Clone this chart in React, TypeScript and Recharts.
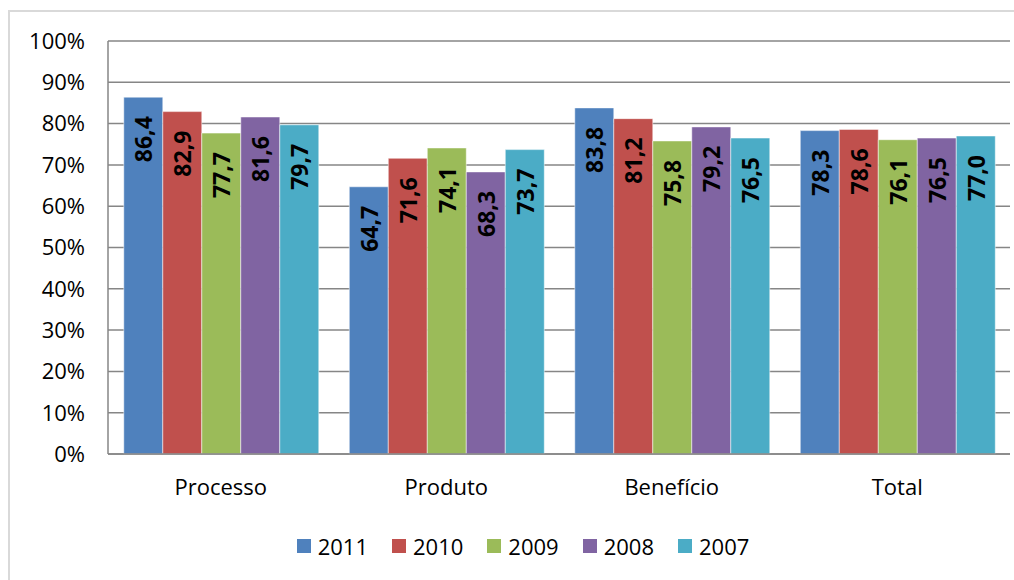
import React from 'react';
import { BarChart, Bar, XAxis, YAxis, CartesianGrid, Legend } from 'recharts';

const categories = ['Processo', 'Produto', 'Benefício', 'Total'];
const years = ['2011', '2010', '2009', '2008', '2007'];
const v2011 = [86.4, 64.7, 83.8, 78.3];
const v2010 = [82.9, 71.6, 81.2, 78.6];
const v2009 = [77.7, 74.1, 75.8, 76.1];
const v2008 = [81.6, 68.3, 79.2, 76.5];
const v2007 = [79.7, 73.7, 76.5, 77.0];
const yTicks = [0, 10, 20, 30, 40, 50, 60, 70, 80, 90, 100];

const colors = ['#4F81BD', '#C0504D', '#9BBB59', '#8064A2', '#4BACC6'];
const seriesValues = [v2011, v2010, v2009, v2008, v2007];

const data = categories.map((name, i) => {
  const row: Record<string, string | number> = { name };
  years.forEach((y, s) => {
    row[y] = seriesValues[s][i];
  });
  return row;
});

const font = '"Open Sans", Lato, sans-serif';

const ValueLabel = (props: any) => {
  const { x, y, width, value } = props;
  const cx = x + width / 2;
  const cy = y + 19;
  return (
    <text
      x={cx}
      y={cy}
      transform={`rotate(-90, ${cx}, ${cy})`}
      textAnchor="end"
      dominantBaseline="central"
      fontFamily={font}
      fontWeight="bold"
      fontSize={23}
      fill="#000"
    >
      {Number(value).toFixed(1).replace('.', ',')}
    </text>
  );
};

const LegendRow = () => (
  <div style={{ display: 'flex', justifyContent: 'center', alignItems: 'center', fontFamily: font, paddingLeft: 28 }}>
    {years.map((y, s) => (
      <div key={y} style={{ display: 'flex', alignItems: 'center', marginRight: s < years.length - 1 ? 24 : 0 }}>
        <span style={{ display: 'inline-block', width: 14, height: 14, background: colors[s], marginRight: 7 }} />
        <span style={{ fontSize: 22, color: '#000', lineHeight: '24px' }}>{y}</span>
      </div>
    ))}
  </div>
);

export default function App() {
  return (
    <div style={{ position: 'fixed', left: 0, top: 0, width: 1014, height: 580, overflow: 'hidden', background: '#fff' }}>
      <div
        style={{
          position: 'absolute',
          left: 8,
          top: 10,
          width: 1100,
          height: 700,
          border: '2px solid #d9d9d9',
          boxSizing: 'border-box',
        }}
      />
      <div style={{ position: 'absolute', left: 8, top: 8 }}>
        <BarChart
          width={1002}
          height={572}
          data={data}
          margin={{ top: 33, right: 0, left: 0, bottom: 22 }}
          barCategoryGap="7%"
          barGap={0}
        >
          <CartesianGrid vertical={false} stroke="#868686" strokeWidth={1.5} />
          <XAxis
            dataKey="name"
            height={80}
            axisLine={{ stroke: '#868686', strokeWidth: 1.5 }}
            tickLine={false}
            tickMargin={19}
            tick={{ fontFamily: font, fontSize: 22, fill: '#000' }}
          />
          <YAxis
            width={100}
            domain={[0, 100]}
            ticks={yTicks}
            tickFormatter={(v) => `${v}%`}
            axisLine={{ stroke: '#868686', strokeWidth: 1.5 }}
            tickLine={false}
            tickMargin={17}
            tick={{ fontFamily: font, fontSize: 22, fill: '#000' }}
            interval={0}
          />
          <Legend verticalAlign="bottom" align="center" height={24} content={() => <LegendRow />} />
          {years.map((y, s) => (
            <Bar
              key={y}
              dataKey={y}
              fill={colors[s]}
              stroke="#ffffff"
              strokeOpacity={0.5}
              strokeWidth={1}
              isAnimationActive={false}
              label={<ValueLabel />}
            />
          ))}
        </BarChart>
      </div>
    </div>
  );
}
